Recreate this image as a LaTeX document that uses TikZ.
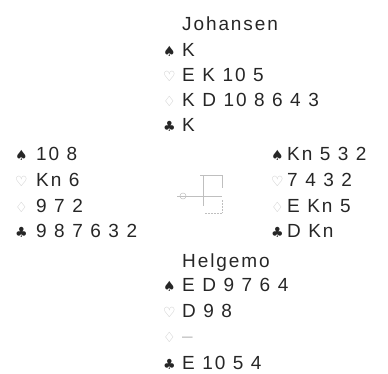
\documentclass[tikz,border=0pt]{standalone}
\usepackage{fontspec}
\setmainfont{Liberation Sans}[LetterSpace=10]
\newfontfamily\symfont{DejaVu Sans}
\usetikzlibrary{positioning}

\definecolor{ink}{gray}{0.15}
\definecolor{pale}{gray}{0.75}
\newcommand{\handfont}{\fontsize{19bp}{22bp}\selectfont\spaceskip=7.5bp\relax}
\newcommand{\symw}{19bp}
\newcommand{\spd}{\makebox[\symw][l]{\color{ink}\symfont\fontsize{14bp}{14bp}\selectfont ♠}}
\newcommand{\hrt}{\makebox[\symw][l]{\color{pale}\symfont\fontsize{14bp}{14bp}\selectfont ♡}}
\newcommand{\dmd}{\makebox[\symw][l]{\color{pale}\symfont\fontsize{14bp}{14bp}\selectfont ♢}}
\newcommand{\clb}{\makebox[\symw][l]{\color{ink}\symfont\fontsize{14bp}{14bp}\selectfont ♣}}

\begin{document}
\begin{tikzpicture}[x=1bp,y=-1bp,
  hand/.style={anchor=base west,inner sep=0pt,text=ink,font=\handfont},
  west/.style={hand,font=\handfont\renewcommand{\symw}{21bp}},
  east/.style={hand,font=\handfont\renewcommand{\symw}{16bp}},
  faint/.style={draw=pale,line width=0.5bp}]
\useasboundingbox (0,0) rectangle (388,374);
% north
\node[hand] (nname) at (182,30)  {Johansen};
\node[hand] (ns) at (163,56)  {\spd K};
\node[hand] (nh) at (163,81)  {\hrt E K 10 5};
\node[hand] (nd) at (163,106) {\dmd K D 10 8 6 4 3};
\node[hand] (nc) at (163,131) {\clb K};
% west
\node[west] (ws) at (15,160) {\spd 10 8};
\node[west] (wh) at (15,186) {\hrt Kn 6};
\node[west] (wd) at (15,212) {\dmd 9 7 2};
\node[west] (wc) at (15,237) {\clb 9 8 7 6 3 2};
% east
\node[east] (es) at (271,160) {\spd Kn 5 3 2};
\node[east] (eh) at (271,186) {\hrt 7 4 3 2};
\node[east] (ed) at (271,212) {\dmd E Kn 5};
\node[east] (ec) at (271,237) {\clb D Kn};
% south
\node[hand] (sname) at (182,267) {Helgemo};
\node[hand] (ss) at (163,291) {\spd E D 9 7 6 4};
\node[hand] (sh) at (163,317) {\hrt D 9 8};
\node[hand] (sd) at (163,342) {\dmd \textcolor{pale}{--}};
\node[hand] (sc) at (163,369) {\clb E 10 5 4};
% compass
\draw[faint] (183,196) circle (3);
\draw[faint] (177,196) -- (222,196);
\draw[faint] (203,176) -- (203,206);
\draw[faint] (200,175) -- (222,175) -- (222,188);
\draw[faint,densely dotted] (205,213) -- (222,213) -- (222,200);
\end{tikzpicture}
\end{document}
